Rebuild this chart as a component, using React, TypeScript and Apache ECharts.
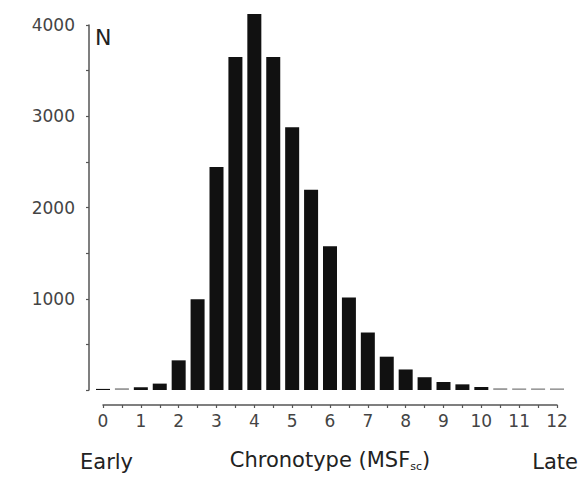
import React, { useEffect, useRef } from "react";
import * as echarts from "echarts";

const binCenters: number[] = [0, 0.5, 1, 1.5, 2, 2.5, 3, 3.5, 4, 4.5, 5, 5.5, 6, 6.5, 7, 7.5, 8, 8.5, 9, 9.5, 10, 10.5, 11, 11.5, 12];
const counts: number[] = [12, 20, 30, 70, 325, 995, 2445, 3650, 4120, 3650, 2880, 2195, 1575, 1015, 630, 365, 225, 140, 88, 62, 33, 20, 18, 18, 18];
const yTicks: number[] = [0, 1000, 2000, 3000, 4000];
const xTicks: number[] = [0, 1, 2, 3, 4, 5, 6, 7, 8, 9, 10, 11, 12];
const xTitle = "Chronotype (MSF";
const xTitleSub = "sc";
const yTitle = "N";
const leftLabel = "Early";
const rightLabel = "Late";

const FONT = "DejaVu Sans";

export default function App() {
  const ref = useRef<HTMLDivElement>(null);
  useEffect(() => {
    if (!ref.current) return;
    const chart = echarts.init(ref.current, null, { renderer: "svg" });
    const data = binCenters.map((x, i) => [x, counts[i]]);
    chart.setOption({
      animation: false,
      backgroundColor: "#ffffff",
      grid: { left: 103, right: 24, top: 25, bottom: 84 },
      xAxis: {
        type: "value",
        min: 0,
        max: 12,
        interval: 1,
        offset: 15,
        splitLine: { show: false },
        axisLine: { show: true, onZero: false, lineStyle: { color: "#555", width: 1.5 } },
        axisTick: { show: true, length: 3, lineStyle: { color: "#555", width: 1.2 } },
        minorTick: { show: true, splitNumber: 2, length: 3, lineStyle: { color: "#555", width: 1.2 } },
        axisLabel: {
          margin: 7,
          fontFamily: FONT,
          fontSize: 17,
          color: "#444",
          formatter: (v: number) => (xTicks.includes(v) ? String(v) : ""),
        },
        name: "{m|" + xTitle + "}{s|" + xTitleSub + "}{m|)}",
        nameLocation: "middle",
        nameGap: 43,
        nameTextStyle: {
          rich: {
            m: { fontFamily: FONT, fontSize: 21, color: "#222", lineHeight: 24 },
            s: { fontFamily: FONT, fontSize: 11, color: "#222", verticalAlign: "bottom", lineHeight: 24 },
          },
        },
      },
      yAxis: {
        type: "value",
        min: 0,
        max: 4000,
        interval: 1000,
        offset: 14,
        splitLine: { show: false },
        axisLine: { show: true, onZero: false, lineStyle: { color: "#555", width: 1.5 } },
        axisTick: { show: true, length: 3, lineStyle: { color: "#555", width: 1.2 } },
        minorTick: { show: true, splitNumber: 2, length: 3, lineStyle: { color: "#555", width: 1.2 } },
        axisLabel: {
          margin: 14,
          fontFamily: FONT,
          fontSize: 17,
          color: "#444",
          formatter: (v: number) => (yTicks.includes(v) && v !== 0 ? String(v) : ""),
        },
      },
      graphic: [
        {
          type: "text",
          left: 95,
          top: 26,
          style: { text: yTitle, fontFamily: FONT, fontSize: 22, fill: "#222" },
        },
        {
          type: "text",
          left: 80,
          top: 451,
          style: { text: leftLabel, fontFamily: FONT, fontSize: 21, fill: "#222" },
        },
        {
          type: "text",
          right: 3,
          top: 451,
          style: { text: rightLabel, fontFamily: FONT, fontSize: 21, fill: "#222" },
        },
      ],
      series: [
        {
          type: "bar",
          data,
          barWidth: 14,
          clip: false,
          itemStyle: {
            color: (p: any) => (p.value[1] >= 16 && p.value[1] <= 20 ? "#9a9a9a" : "#111111"),
          },
        },
      ],
    });
    return () => chart.dispose();
  }, []);
  return (
    <div
      ref={ref}
      style={{ position: "absolute", left: 0, top: 0, width: 581, height: 477 }}
    />
  );
}
